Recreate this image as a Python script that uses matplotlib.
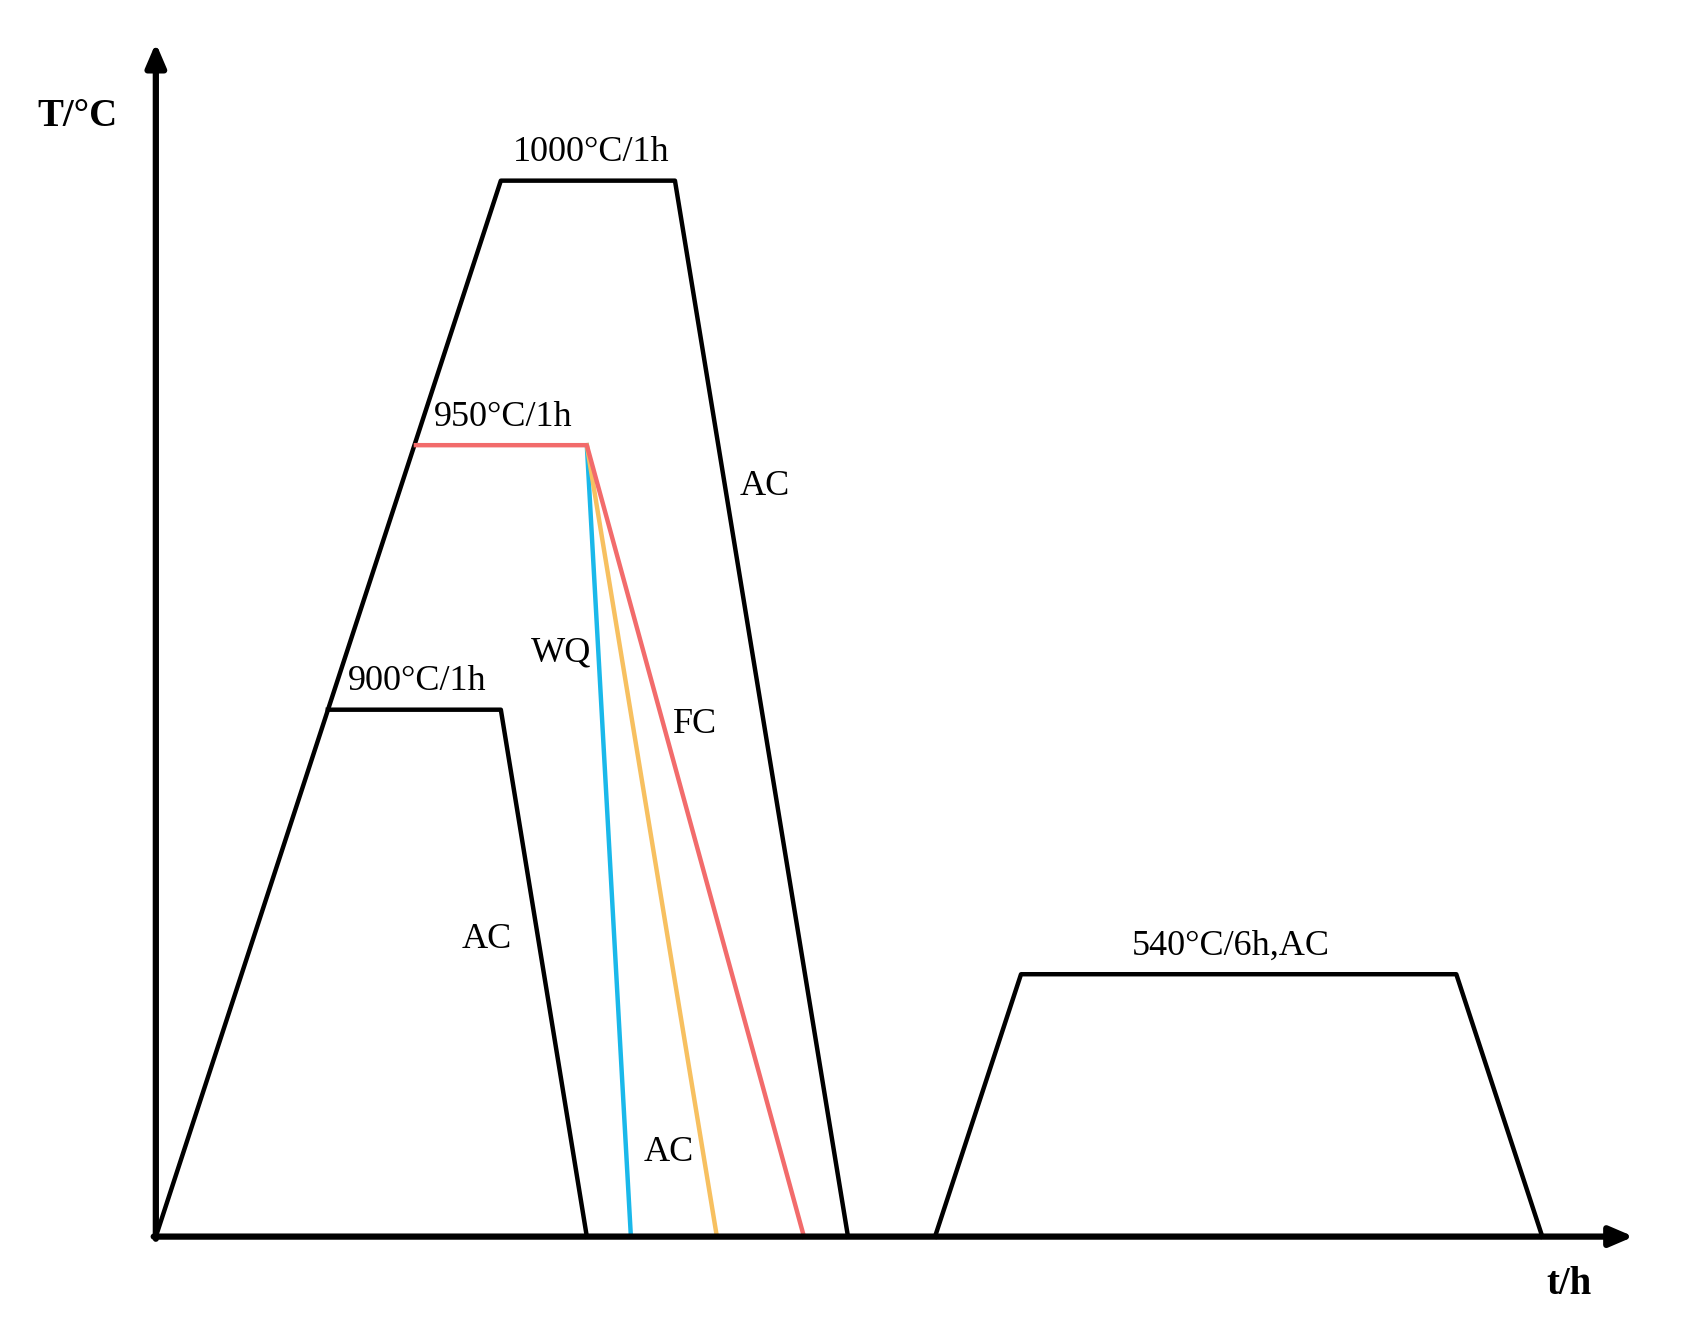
import matplotlib
matplotlib.use("Agg")
import matplotlib.pyplot as plt

# Process curves (x = time units, y = temperature units, screen-like scale)
t_1000 = [0, 321, 483, 644]; T_1000 = [0, 982, 982, 0]
t_900 = [160, 321, 401]; T_900 = [490, 490, 0]
t_950 = [242, 401, 603]; T_950 = [736, 736, 0]
t_wq = [401, 442]; T_wq = [736, 0]
t_ac = [401, 522]; T_ac = [736, 0]
t_temper = [725, 805, 1210, 1290]; T_temper = [0, 244, 244, 0]

labels = [("1000°C/1h", 405, 1000), ("950°C/1h", 323, 754), ("900°C/1h", 243, 508),
          ("AC", 567, 690), ("WQ", 377, 535), ("FC", 502, 468), ("AC", 308, 268),
          ("AC", 477, 70), ("540°C/6h,AC", 1000, 262)]

plt.rcParams['font.family'] = ['Liberation Serif', 'DejaVu Serif']
fig = plt.figure(figsize=(16.82, 13.28), dpi=100)
ax = fig.add_axes([0, 0, 1, 1])
W, H = 1565, 1235
ox, oy = 145, 1150
ax.set_xlim(-ox, W - ox)
ax.set_ylim(-(H - oy), oy)
ax.axis('off')

lw = 3.2
ax.plot(t_1000, T_1000, color='black', lw=lw)
ax.plot(t_900, T_900, color='black', lw=lw)
ax.plot(t_wq, T_wq, color='#1ab8ea', lw=lw)
ax.plot(t_ac, T_ac, color='#f7c060', lw=lw)
ax.plot(t_950, T_950, color='#f26b6b', lw=lw)
ax.plot(t_temper, T_temper, color='black', lw=lw)

# axes arrows
ax.annotate('', xy=(1375, 0), xytext=(-2, 0),
            arrowprops=dict(arrowstyle='-|>,head_length=1.4,head_width=0.6', color='black', lw=4.5, shrinkA=0, shrinkB=0))
ax.annotate('', xy=(0, 1110), xytext=(0, -2),
            arrowprops=dict(arrowstyle='-|>,head_length=1.4,head_width=0.6', color='black', lw=4.5, shrinkA=0, shrinkB=0))

for s, x, y in labels:
    ax.text(x, y, s, fontsize=26, ha='center', va='baseline')

ax.text(-73, 1033, 'T/°C', fontsize=28, fontweight='bold', ha='center', va='baseline')
ax.text(1315, -53, 't/h', fontsize=28, fontweight='bold', ha='center', va='baseline')

fig.savefig('out.png', dpi=100, facecolor='white')
